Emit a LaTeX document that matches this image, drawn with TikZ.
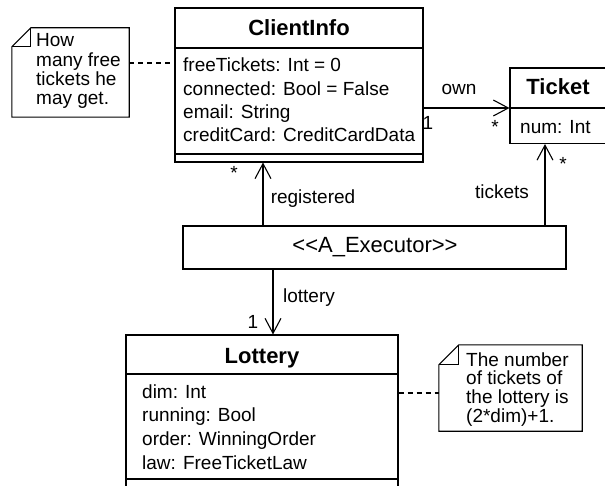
\documentclass[tikz,border=0pt]{standalone}
\usepackage{fontspec}
\setmainfont{Liberation Sans}[Ligatures=TeXOff]
\usetikzlibrary{arrows.meta}
\tikzset{
  box/.style={draw, line width=1.1pt, inner sep=0pt, rectangle},
  blank/.style={inner sep=0pt, rectangle},
  sepline/.style={line width=1.1pt},
  attr/.style={inner sep=0pt, anchor=base west, font=\fontsize{19}{23}\selectfont},
  title/.style={inner sep=0pt, anchor=base, font=\fontsize{22}{26}\selectfont\bfseries},
  notetext/.style={inner sep=0pt, anchor=base west, font=\fontsize{19}{19}\selectfont},
  lbl/.style={inner sep=0pt, anchor=center, font=\fontsize{19}{22}\selectfont},
  assoc/.style={line width=1.1pt, -{Straight Barb[length=15pt,width=16pt,line width=1.1pt]}},
  notelink/.style={line width=1.1pt, dash pattern=on 5pt off 4pt},
  notebox/.style={line width=1.1pt, line join=miter},
}
\begin{document}
\begin{tikzpicture}[x=1pt,y=-1pt]
\useasboundingbox (0,0) rectangle (605,486);
\fill[white] (0,0) rectangle (605,486);
\clip (0,0) rectangle (605,486);

% ClientInfo
\node[box, minimum width=248pt, minimum height=154pt] (ci) at (299,85) {};
\draw[sepline] (ci.west |- 0,48) -- (ci.east |- 0,48);
\draw[sepline] (ci.west |- 0,154) -- (ci.east |- 0,154);
\node[title] (citl) at (299,36) {ClientInfo};
\node[attr] (ca1) at (183,72) {freeTickets: Int = 0};
\node[attr] (ca2) at (183,95.3) {connected: Bool = False};
\node[attr] (ca3) at (183,118.6) {email: String};
\node[attr] (ca4) at (183,142) {creditCard: CreditCardData};

% Ticket
\node[box, minimum width=96pt, minimum height=75.5pt] (tk) at (558,105.75) {};
\draw[sepline] (tk.west |- 0,108) -- (tk.east |- 0,108);
\node[title] (tktl) at (558,95) {Ticket};
\node[attr] (ta1) at (520,134) {num: Int};

% Executor
\node[box, minimum width=383pt, minimum height=43pt] (ex) at (374.5,247.5) {};
\node[inner sep=0pt, anchor=base, font=\fontsize{22}{26}\selectfont] (extx) at (375,253) {<<A\_Executor>>};

% Lottery
\node[box, minimum width=272pt, minimum height=175pt] (lo) at (262,422.5) {};
\draw[sepline] (lo.west |- 0,374) -- (lo.east |- 0,374);
\draw[sepline] (lo.west |- 0,479) -- (lo.east |- 0,479);
\node[title] (lotl) at (262,363) {Lottery};
\node[attr] (la1) at (142,398) {dim: Int};
\node[attr] (la2) at (142,421.7) {running: Bool};
\node[attr] (la3) at (142,445.4) {order: WinningOrder};
\node[attr] (la4) at (142,469) {law: FreeTicketLaw};

% Note 1
\node[blank, minimum width=117pt, minimum height=89pt] (n1) at (70.5,72.5) {};
\draw[notebox] (n1.south west) -- (n1.south east) -- (n1.north east)
  -- ([xshift=19pt]n1.north west) -- ([yshift=-19pt]n1.north west) -- cycle;
\draw[notebox] ([xshift=19pt]n1.north west) -- ([xshift=19pt,yshift=-19pt]n1.north west)
  -- ([yshift=-19pt]n1.north west);
\node[notetext] (n1a) at (36,47) {How};
\node[notetext] (n1b) at (36,66.5) {many free};
\node[notetext] (n1c) at (36,85.5) {tickets he};
\node[notetext] (n1d) at (36,104.5) {may get.};

% Note 2
\node[blank, minimum width=143pt, minimum height=86pt] (n2) at (510.5,388) {};
\draw[notebox] (n2.south west) -- (n2.south east) -- (n2.north east)
  -- ([xshift=20pt]n2.north west) -- ([yshift=-20pt]n2.north west) -- cycle;
\draw[notebox] ([xshift=20pt]n2.north west) -- ([xshift=20pt,yshift=-20pt]n2.north west)
  -- ([yshift=-20pt]n2.north west);
\node[notetext] (n2a) at (466,366) {The number};
\node[notetext] (n2b) at (466,384.7) {of tickets of};
\node[notetext] (n2c) at (466,403.4) {the lottery is};
\node[notetext] (n2d) at (466,422) {(2*dim)+1.};

% Connectors
\draw[notelink] (n1.east |- 0,63) -- (ci.west |- 0,63);
\draw[notelink] (lo.east |- 0,393) -- (n2.west |- 0,393);
\draw[assoc] (ci.east |- 0,108) -- (tk.west |- 0,108);
\draw[assoc] (ex.north -| 263,0) -- (ci.south -| 263,0);
\draw[assoc] (ex.north -| 545,0) -- (tk.south -| 545,0);
\draw[assoc] (ex.south -| 273,0) -- (lo.north -| 273,0);

% Labels
\node[lbl] (lown) at (459,89) {own};
\node[lbl] (lone1) at (428,123) {1};
\node[lbl] (lst1) at (495,127) {*};
\node[lbl] (lst2) at (563,164) {*};
\node[lbl] (ltk) at (502,192) {tickets};
\node[lbl] (lst3) at (234,173) {*};
\node[lbl] (lreg) at (313,199) {registered};
\node[lbl] (llot) at (309,298) {lottery};
\node[lbl] (lone2) at (253,322) {1};
\end{tikzpicture}
\end{document}
